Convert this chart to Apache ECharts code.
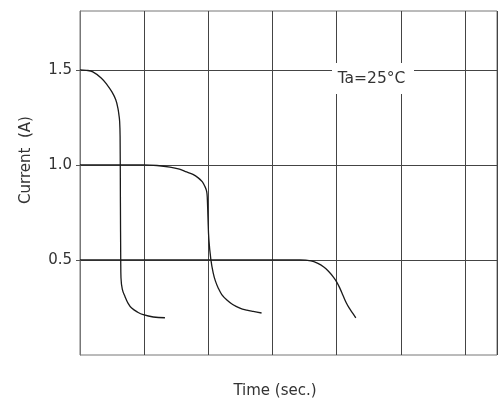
<!DOCTYPE html>
<html>
<head>
<meta charset="utf-8">
<script src="https://cdn.jsdelivr.net/npm/echarts@6/dist/echarts.min.js"></script>
<style>html,body{margin:0;padding:0;background:#fff}#c{width:499px;height:403px}</style>
</head>
<body>
<div id="c"></div>
<script>
const yTicks = [0.5, 1.0, 1.5];
const curve15 = [[0,1.5],[0.1,1.498],[0.2,1.49],[0.33,1.458],[0.42,1.423],[0.5,1.383],[0.556,1.344],[0.59,1.3],[0.608,1.26],[0.618,1.229],[0.625,1.15],[0.63,0.8],[0.635,0.5],[0.639,0.405],[0.66,0.345],[0.701,0.308],[0.75,0.272],[0.805,0.247],[0.9,0.225],[0.986,0.212],[1.142,0.2],[1.324,0.196]];
const curve10 = [[0,1.0],[0.986,1.0],[1.2,0.997],[1.402,0.989],[1.55,0.978],[1.662,0.963],[1.76,0.95],[1.843,0.932],[1.905,0.912],[1.947,0.887],[1.975,0.86],[1.985,0.82],[1.995,0.72],[2.009,0.607],[2.04,0.502],[2.076,0.432],[2.11,0.39],[2.154,0.353],[2.21,0.318],[2.285,0.291],[2.38,0.266],[2.492,0.247],[2.6,0.236],[2.699,0.229],[2.83,0.221]];
const curve05 = [[0,0.5],[3.43,0.5],[3.6,0.495],[3.7,0.483],[3.8,0.463],[3.88,0.438],[3.95,0.41],[4.0,0.385],[4.05,0.352],[4.1,0.313],[4.15,0.275],[4.2,0.245],[4.25,0.22],[4.299,0.195]];
const tempLabel = 'Ta=25°C';

const chart = echarts.init(document.getElementById('c'));
const font = 'DejaVu Sans';
const lineSeries = (d) => ({type:'line', data:d, showSymbol:false, smooth:0.4, lineStyle:{color:'#1a1a1a', width:1.3}, z:3, animation:false});
chart.setOption({
  animation:false,
  grid:{left:80, right:2, top:11, bottom:48, show:true, borderColor:'#777', borderWidth:1},
  xAxis:{type:'value', min:0, max:6.5, interval:1,
    axisLine:{show:false}, axisTick:{show:false}, axisLabel:{show:false},
    splitLine:{show:true, lineStyle:{color:'#444', width:1}}},
  yAxis:{type:'value', min:0, max:1.81, interval:0.5,
    axisLine:{show:true, lineStyle:{color:'#777'}},
    axisTick:{show:true, customValues:yTicks, length:4, lineStyle:{color:'#555'}},
    axisLabel:{customValues:yTicks, margin:8, color:'#333', fontFamily:font, fontSize:15,
      formatter:(v)=>v.toFixed(1)},
    splitLine:{show:true, lineStyle:{color:'#444', width:1}}},
  graphic:[
    {type:'rect', shape:{x:332, y:63, width:82, height:31}, style:{fill:'#fff'}, z:10},
    {type:'text', x:371.5, y:79, style:{text:tempLabel, fontFamily:font, fontSize:15.5, fill:'#333', align:'center', verticalAlign:'middle'}, z:11},
    {type:'text', x:26, y:160, rotation:Math.PI/2, style:{text:'Current  (A)', fontFamily:font, fontSize:15, fill:'#333', align:'center', verticalAlign:'middle'}, z:11},
    {type:'text', x:275, y:391, style:{text:'Time (sec.)', fontFamily:font, fontSize:15, fill:'#333', align:'center', verticalAlign:'middle'}, z:11}
  ],
  series:[lineSeries(curve15), lineSeries(curve10), lineSeries(curve05)]
});
</script>
</body>
</html>
